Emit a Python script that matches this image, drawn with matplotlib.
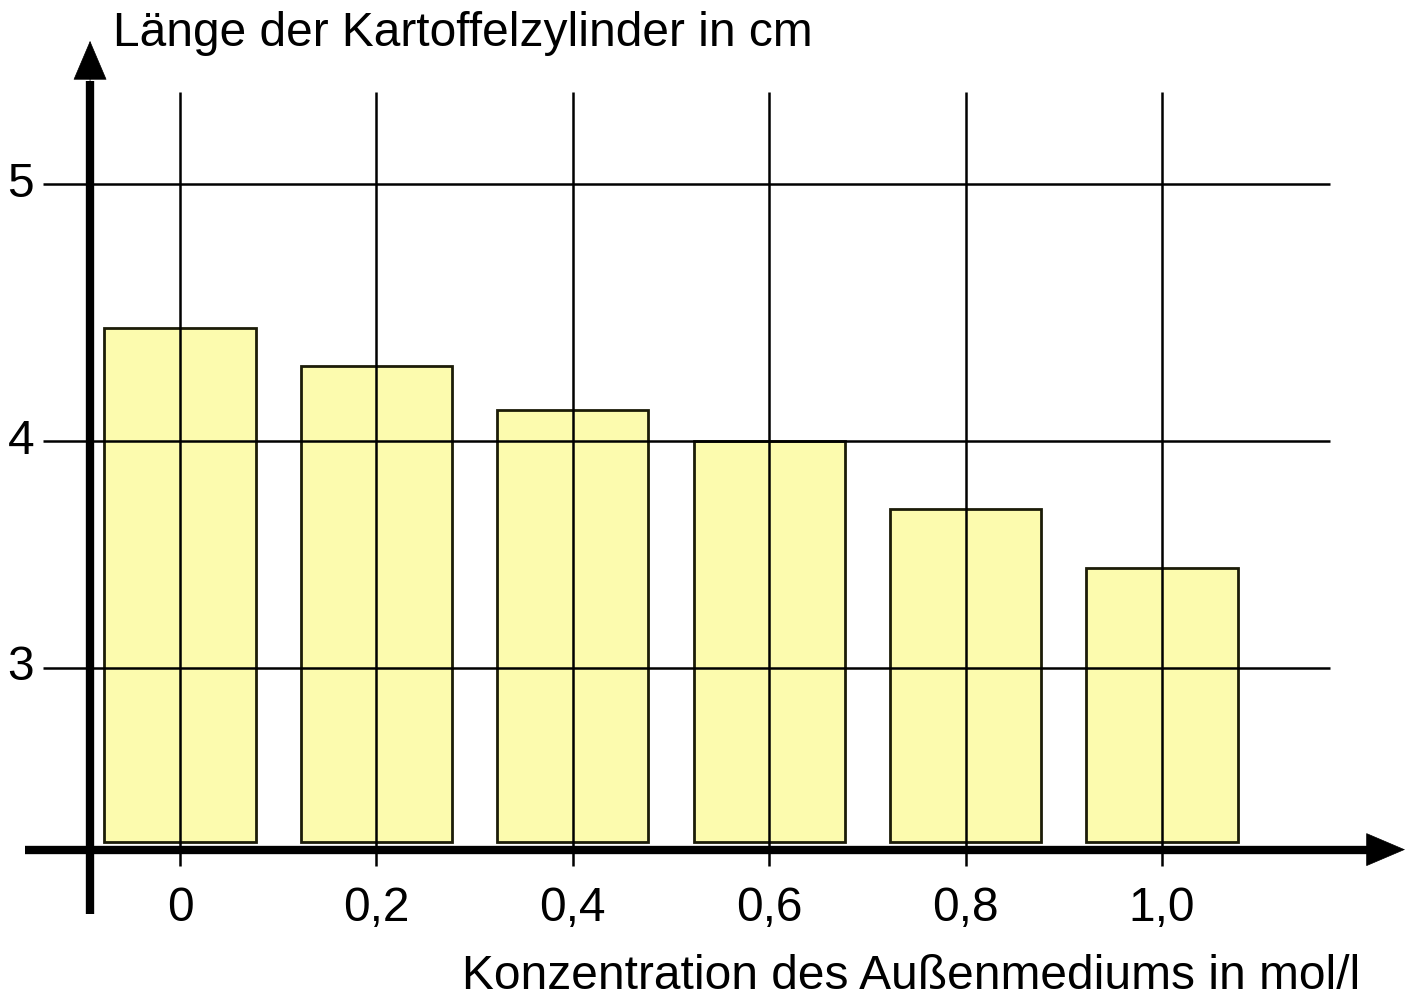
import numpy as np
import matplotlib
matplotlib.use("Agg")
import matplotlib.pyplot as plt

plt.rcParams['font.family'] = ['Liberation Sans', 'DejaVu Sans']

# Data
concentrations = [0.0, 0.2, 0.4, 0.6, 0.8, 1.0]
x_labels = ["0", "0,2", "0,4", "0,6", "0,8", "1,0"]
lengths = [4.44, 4.29, 4.12, 4.0, 3.70, 3.44]
y_ticks = [3, 4, 5]
y_tick_labels = ["3", "4", "5"]
y_title = "Länge der Kartoffelzylinder in cm"
x_title = "Konzentration des Außenmediums in mol/l"

# Piecewise-linear (schematic) y scale as in the hand-drawn original
_v = np.array([0.0, 3.0, 4.0, 5.0, 10.0])
_p = np.array([-1349.0, -668.0, -441.0, -184.0, 1101.0])


def fwd(v):
    return np.interp(v, _v, _p)


def inv(p):
    return np.interp(p, _p, _v)


fig = plt.figure(figsize=(14.08, 10.0), dpi=100)
ax = fig.add_axes([0, 0, 1, 1])
ax.set_yscale('function', functions=(fwd, inv))
ax.set_xlim(-0.18330, 1.25051)
ax.set_ylim(1.5374, 5.7160)
ax.axis('off')

bar_base = 2.235
axis_y = 2.2
axis_x = -0.0916

ax.bar(concentrations, np.array(lengths) - bar_base, bottom=bar_base,
       width=0.154, color='#FCFBAE', edgecolor='#1c1c08', linewidth=2.0,
       zorder=2)

# grid
ax.hlines(y_ticks, -0.1395, 1.1711, colors='black', linewidth=1.8, zorder=3)
ax.vlines(concentrations, 2.128, 5.358, colors='black', linewidth=1.8, zorder=3)

# axes lines
ax.plot([-0.1578, 1.21], [axis_y, axis_y], color='black', lw=6,
        solid_capstyle='butt', zorder=4)
ax.plot([axis_x, axis_x], [1.916, 5.40], color='black', lw=6,
        solid_capstyle='butt', zorder=4)
style = '-|>,head_length=2.7,head_width=1.15'
ax.annotate('', xy=(1.2475, axis_y), xytext=(1.19, axis_y),
            arrowprops=dict(arrowstyle=style, mutation_scale=10, lw=0.5,
                            color='black', shrinkA=0, shrinkB=0), zorder=5)
ax.annotate('', xy=(axis_x, 5.557), xytext=(axis_x, 5.35),
            arrowprops=dict(arrowstyle=style, mutation_scale=10, lw=0.5,
                            color='black', shrinkA=0, shrinkB=0), zorder=5)

# tick labels
for yt, lab in zip(y_ticks, y_tick_labels):
    ax.text(-0.162, yt, lab, ha='center', va='center', fontsize=34.5)
for xc, lab in zip(concentrations, x_labels):
    ax.text(xc, 1.94, lab, ha='center', va='center', fontsize=34.5)

fig.text(113 / 1408, 1 - 46 / 1000, y_title, ha='left', va='baseline', fontsize=34.5)
fig.text(1360 / 1408, 1 - 989 / 1000, x_title, ha='right', va='baseline', fontsize=34.5)

fig.savefig('out.png', dpi=100)
